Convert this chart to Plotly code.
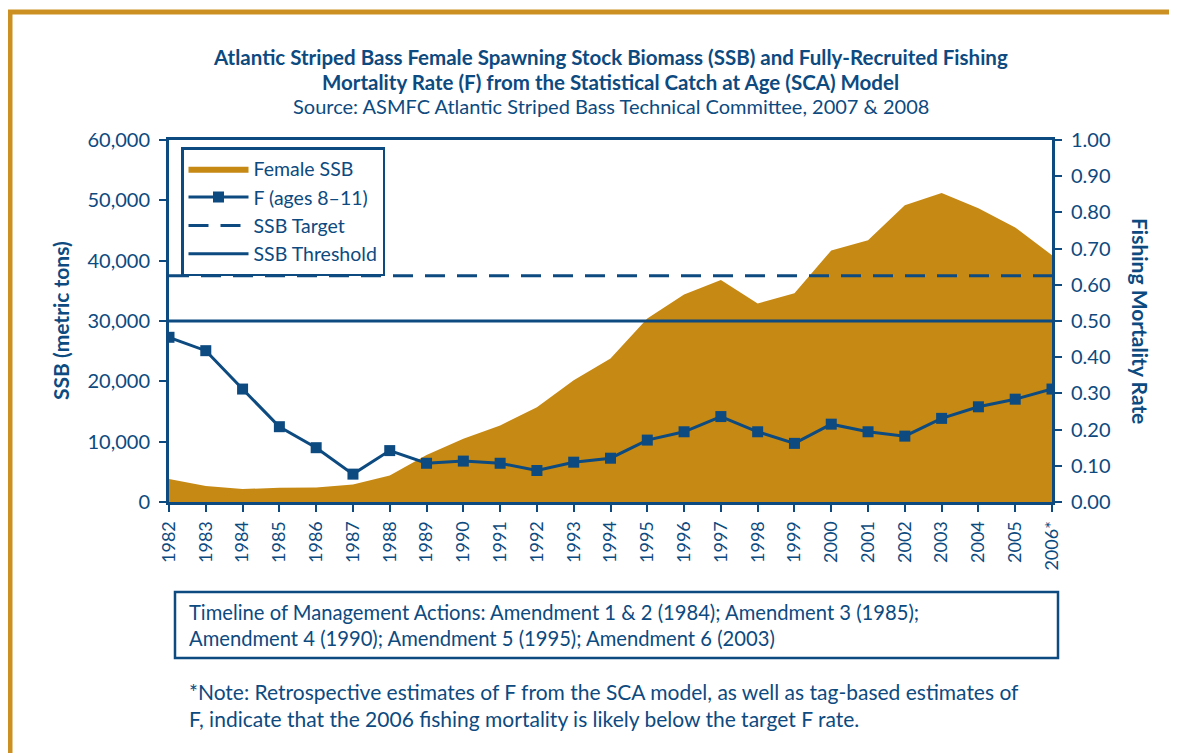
import plotly.graph_objects as go

# data
years = list(range(1982, 2007))
year_labels = [str(y) for y in years[:-1]] + ["2006*"]

female_ssb = [3800, 2650, 2150, 2350, 2400, 2900, 4400, 7800, 10500, 12700, 15700,
              20200, 23800, 30400, 34400, 36800, 32900, 34600, 41700, 43400, 49200,
              51200, 48700, 45500, 40900]

f_ages_8_11 = [0.455, 0.418, 0.312, 0.208, 0.150, 0.077, 0.142, 0.107, 0.113, 0.107,
               0.087, 0.110, 0.121, 0.171, 0.194, 0.236, 0.194, 0.162, 0.215, 0.194,
               0.182, 0.231, 0.263, 0.284, 0.312]

ssb_target = 37500
ssb_threshold = 30000

ssb_ticks = [0, 10000, 20000, 30000, 40000, 50000, 60000]
f_ticks = [0.0, 0.1, 0.2, 0.3, 0.4, 0.5, 0.6, 0.7, 0.8, 0.9, 1.0]

BLUE = "#0c4a80"
GOLD = "#c68914"
BORDER = "#cc8f22"
FONT = "Lato"

# page is 1177x753, the browser puts the figure 8px in from the corner
OFF = 8
W, H = 1177 - OFF, 753 - OFF
# plot area in page pixels
x0, x1, y0, y1 = 169, 1052, 140, 502


def px(x):
    return (x - OFF) / W


def py(y):
    return 1 - (y - OFF) / H


fig = go.Figure()

fig.add_trace(go.Scatter(
    x=years, y=female_ssb, name="Female SSB", mode="lines",
    fill="tozeroy", fillcolor=GOLD, line=dict(width=0, color=GOLD),
    yaxis="y"))

fig.add_trace(go.Scatter(
    x=years, y=f_ages_8_11, name="F (ages 8\u201311)", mode="lines+markers",
    line=dict(color=BLUE, width=3), marker=dict(symbol="square", size=11, color=BLUE),
    yaxis="y2"))

fig.add_trace(go.Scatter(
    x=[years[0], years[-1]], y=[ssb_target, ssb_target], name="SSB Target",
    mode="lines", line=dict(color=BLUE, width=3, dash="20px,12px"), yaxis="y"))

fig.add_trace(go.Scatter(
    x=[years[0], years[-1]], y=[ssb_threshold, ssb_threshold], name="SSB Threshold",
    mode="lines", line=dict(color=BLUE, width=3), yaxis="y"))

tickfont = dict(family=FONT, size=20, color=BLUE)

fig.update_layout(
    width=W, height=H,
    margin=dict(l=0, r=0, t=0, b=0),
    paper_bgcolor="white", plot_bgcolor="white",
    font=dict(family=FONT, color=BLUE),
    xaxis=dict(
        domain=[px(x0), px(x1)], range=[1982, 2006],
        tickvals=years, ticktext=year_labels, tickangle=-90,
        tickfont=dict(family=FONT, size=18, color=BLUE), ticklabelstandoff=2,
        ticks="outside", ticklen=7, tickwidth=2, tickcolor=BLUE,
        showline=True, linecolor=BLUE, linewidth=3, mirror=True,
        showgrid=False, zeroline=False, automargin=False),
    yaxis=dict(
        domain=[py(y1), py(y0)], range=[0, 60000],
        tickvals=ssb_ticks, tickformat=",", tickfont=tickfont, ticklabelstandoff=5,
        ticks="outside", ticklen=7, tickwidth=2, tickcolor=BLUE,
        showline=True, linecolor=BLUE, linewidth=3,
        showgrid=False, zeroline=False, automargin=False),
    yaxis2=dict(
        overlaying="y", side="right", anchor="x", range=[0, 1],
        tickvals=f_ticks, tickformat=".2f", tickfont=tickfont, ticklabelstandoff=5,
        ticks="outside", ticklen=7, tickwidth=2, tickcolor=BLUE,
        showline=True, linecolor=BLUE, linewidth=3,
        showgrid=False, zeroline=False, automargin=False),
    yaxis3=dict(
        overlaying="y", side="right", anchor="x", range=[0, 1],
        tickvals=f_ticks, showticklabels=False,
        ticks="inside", ticklen=7, tickwidth=2, tickcolor=BLUE,
        showline=False, showgrid=False, zeroline=False, automargin=False),
    legend=dict(
        x=px(181), y=py(147), xanchor="left", yanchor="top",
        bgcolor="white", bordercolor=BLUE, borderwidth=2.5,
        font=dict(family=FONT, size=19.5, color=BLUE),
        tracegroupgap=0, itemwidth=60),
    showlegend=True,
)

annotations = [
    dict(text="<b>Atlantic Striped Bass Female Spawning Stock Biomass (SSB) and Fully-Recruited Fishing</b>",
         x=px((x0 + x1) / 2), y=py(57), font=dict(size=20.5)),
    dict(text="<b>Mortality Rate (F) from the Statistical Catch at Age (SCA) Model</b>",
         x=px((x0 + x1) / 2), y=py(82), font=dict(size=20.5)),
    dict(text="Source: ASMFC Atlantic Striped Bass Technical Committee, 2007 &amp; 2008",
         x=px((x0 + x1) / 2), y=py(106), font=dict(size=20)),
    dict(text="<b>SSB (metric tons)</b>", x=px(60), y=py(321), textangle=-90,
         font=dict(size=21)),
    dict(text="<b>Fishing Mortality Rate</b>", x=px(1141), y=py(321), textangle=90,
         font=dict(size=21)),
    dict(text="Timeline of Management Actions: Amendment 1 &amp; 2 (1984); Amendment 3 (1985);<br>"
              "Amendment 4 (1990); Amendment 5 (1995); Amendment 6 (2003)",
         x=px(187), y=py(625), xanchor="left", align="left", font=dict(size=20.2)),
    dict(text="*Note: Retrospective estimates of F from the SCA model, as well as tag-based estimates of<br>"
              "F, indicate that the 2006 fishing mortality is likely below the target F rate.",
         x=px(187), y=py(705), xanchor="left", align="left", font=dict(size=21)),
]
for a in annotations:
    a.setdefault("xanchor", "center")
    a.update(xref="paper", yref="paper", showarrow=False, yanchor="middle")
    a["font"] = dict(family=FONT, color=BLUE, **a["font"])
    fig.add_annotation(**a)

# page frame and timeline box
fig.add_shape(type="line", xref="paper", yref="paper", x0=px(10), x1=px(10),
              y0=0, y1=py(12), line=dict(color=BORDER, width=5))
fig.add_shape(type="line", xref="paper", yref="paper", x0=px(8), x1=1,
              y0=py(12), y1=py(12), line=dict(color=BORDER, width=5))
fig.add_shape(type="rect", xref="paper", yref="paper", x0=px(175), x1=px(1058),
              y0=py(658), y1=py(592), line=dict(color=BLUE, width=2.5))

fig.write_html("out.html")
